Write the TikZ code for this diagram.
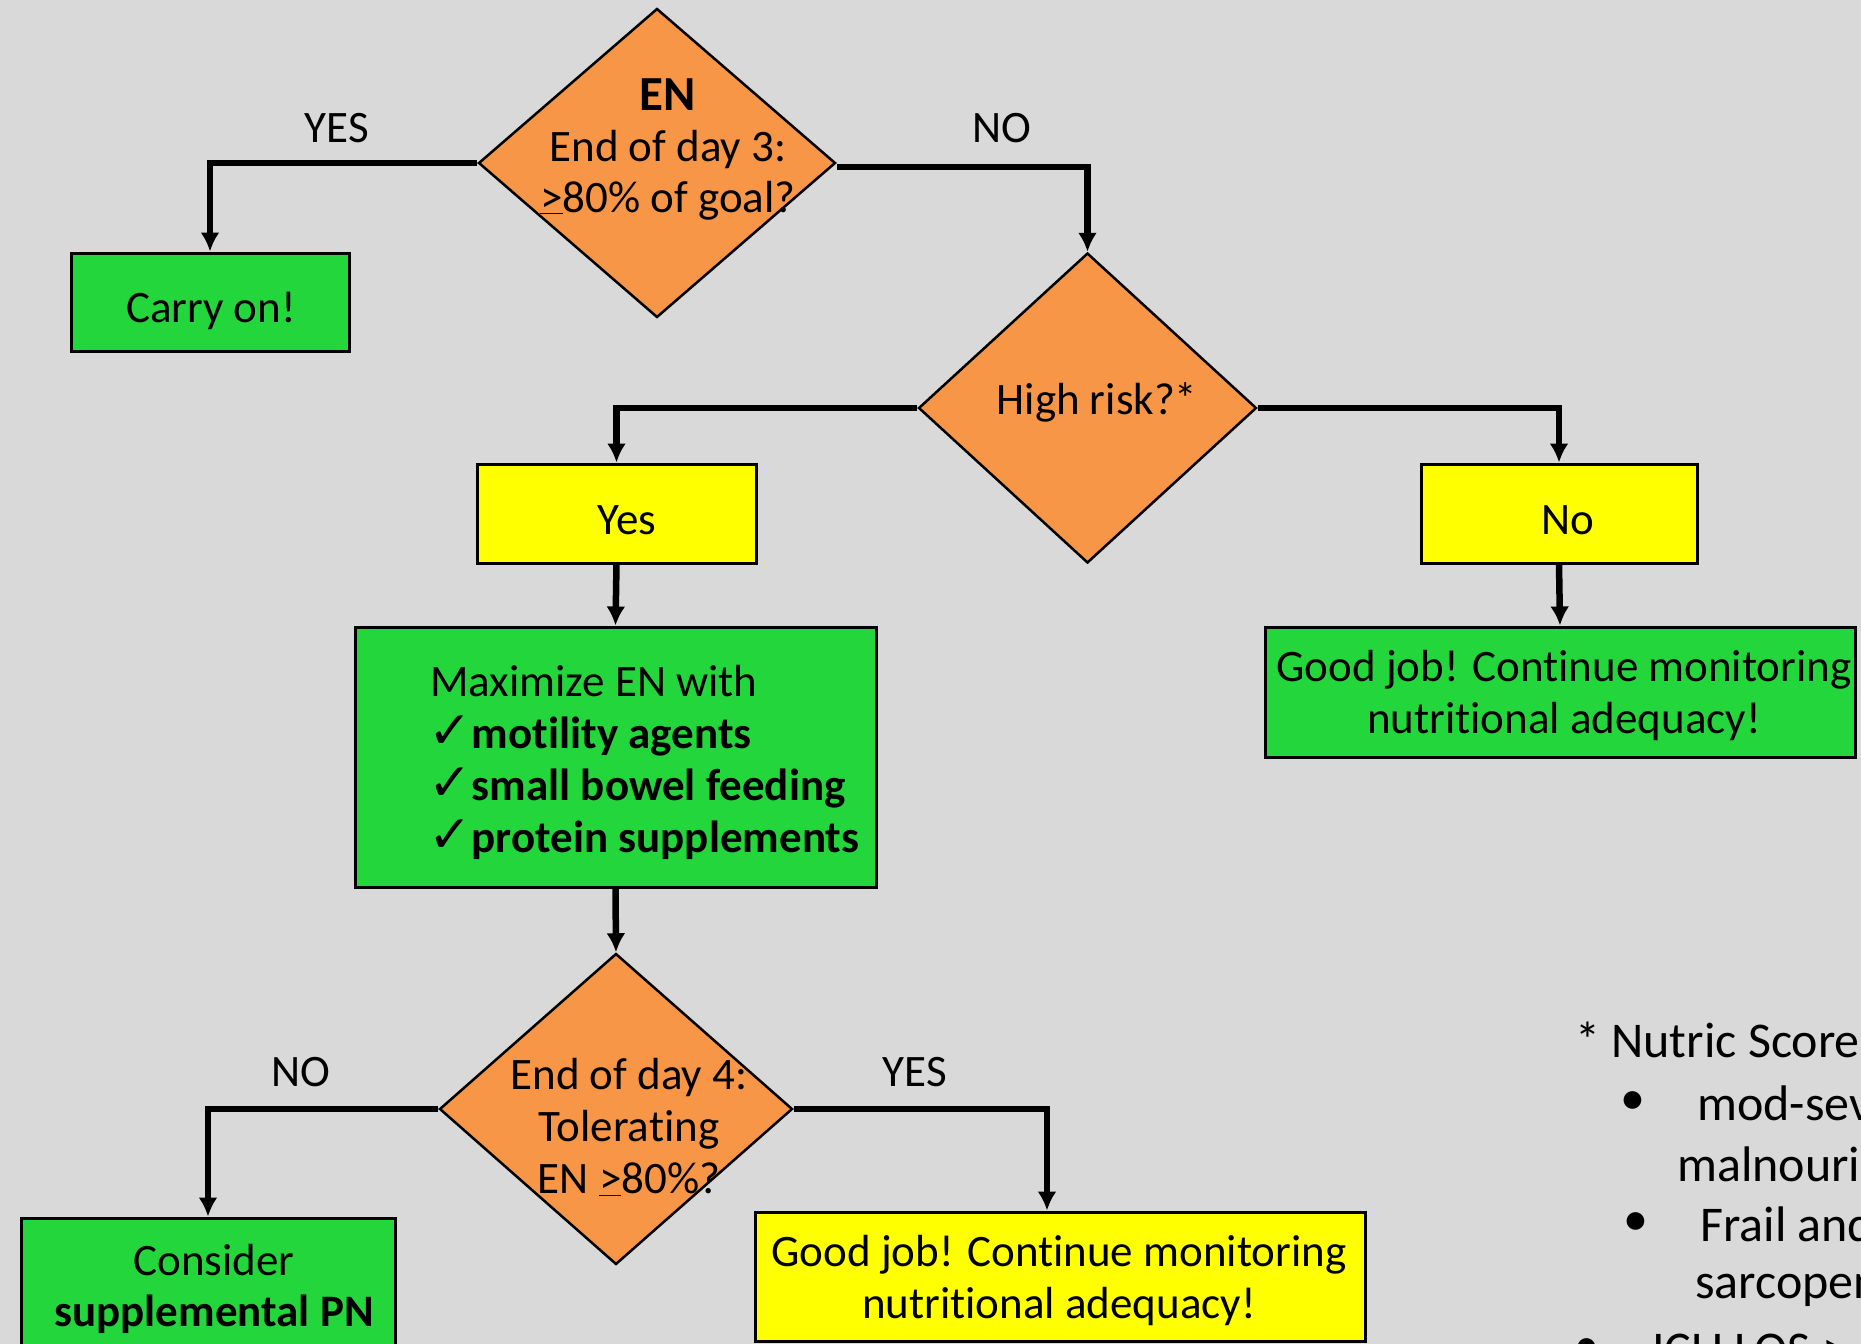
\documentclass[tikz,border=0pt]{standalone}
\usepackage{fontspec}
\setmainfont{Carlito}[Ligatures=NoCommon]
\newfontfamily\dejavu{DejaVu Sans}
\usetikzlibrary{shapes.geometric,arrows.meta,calc}
\definecolor{bgc}{HTML}{D9D9D9}
\definecolor{orgc}{HTML}{F79646}
\definecolor{grnc}{HTML}{23D63B}
\definecolor{ylwc}{HTML}{FFFF00}
\newcommand\myfs{\fontsize{45}{52}\selectfont}
\newcommand\fnfs{\fontsize{50}{60}\selectfont}
\newcommand\chk{{\dejavu\fontsize{52}{51}\selectfont ✓}}
\tikzset{
  box/.style={draw=black, line width=3pt, inner sep=0pt, align=center, font=\myfs},
  grnbox/.style={box, fill=grnc},
  ylwbox/.style={box, fill=ylwc},
  dia/.style={diamond, draw=black, fill=orgc, line width=2.5pt, inner sep=0pt},
  conn/.style={line width=6.5pt, -{Latex[length=19pt,width=19pt]}},
  txt/.style={align=center, font=\myfs, inner sep=0pt},
  lbl/.style={font=\myfs, inner sep=0pt},
  fn/.style={font=\fnfs, inner sep=0pt},
}
\begin{document}
\begin{tikzpicture}[x=1pt,y=-1pt]
\useasboundingbox (0,0) rectangle (1861,1344);
\fill[bgc] (0,0) rectangle (1861,1344);
\clip (0,0) rectangle (1861,1344);

% diamonds
\node[dia, minimum width=357pt, minimum height=309pt] (d1) at (657,163) {};
\node[txt, font=\fontsize{45}{51}\selectfont] (d1t) at (668,149) {{\bfseries\fontsize{49}{51}\selectfont EN}\\End of day 3:\\\underline{>}80\% of goal?};
\node[dia, minimum width=338pt, minimum height=310pt] (d2) at (1087.5,408) {};
\node[txt] (d2t) at (1097,402) {High risk?*};
\node[dia, minimum width=353pt, minimum height=311pt] (d3) at (616,1109) {};
\node[txt] (d3t) at (629,1127) {End of day 4:\\Tolerating\\EN \underline{>}80\%?};

% boxes
\node[grnbox, minimum width=278pt, minimum height=98pt] (carry) at (210,302) {};
\node[txt] (carryt) at (211,311) {Carry on!};
\node[ylwbox, minimum width=279pt, minimum height=99pt] (yes) at (616.5,513.5) {};
\node[txt] (yest) at (627,520) {Yes};
\node[ylwbox, minimum width=276pt, minimum height=99pt] (no) at (1559,513.5) {};
\node[txt] (not) at (1568,520) {No};
\node[grnbox, minimum width=521pt, minimum height=260pt] (max) at (615.5,757) {};
\node[inner sep=0pt, align=left, font=\myfs, anchor=west] (maxt) at (428,762) {%
  \hspace*{2pt}Maximize EN with\\
  \chk\textbf{motility agents}\\
  \chk\textbf{small bowel feeding}\\
  \chk\textbf{protein supplements}};
\node[grnbox, minimum width=590pt, minimum height=130pt] (good1) at (1560,692) {};
\node[txt] (good1t) at (1564,695) {Good job! Continue monitoring\\nutritional adequacy!};
\node[grnbox, minimum width=374pt, minimum height=170pt] (cons) at (208,1303) {};
\node[txt, anchor=north] (const) at (214,1244) {Consider\\[-1pt]\textbf{supplemental PN}};
\node[ylwbox, minimum width=610pt, minimum height=129pt] (good2) at (1060,1276.5) {};
\node[txt] (good2t) at (1059,1280) {Good job! Continue monitoring\\nutritional adequacy!};

% connectors
\draw[conn] (d1.west) -| (carry.north);
\draw[conn] ([yshift=-4pt]d1.east) -| (d2.north);
\draw[conn] (d2.west) -| (yes.north);
\draw[conn] (d2.east) -| (no.north);
\draw[conn] (yes.south) -- (max.north);
\draw[conn] (no.south) -- (good1.north);
\draw[conn] (max.south) -- (d3.north);
\draw[conn] (d3.west) -| (cons.north);
\draw[conn] (d3.east) -| ([xshift=-13pt]good2.north);

% labels
\node[lbl] (lyes1) at (337,128) {YES};
\node[lbl] (lno1) at (1002,128) {NO};
\node[lbl] (lno2) at (301,1072) {NO};
\node[lbl] (lyes2) at (915,1072) {YES};

% footnote
\node[fn, anchor=west] (fn0) at (1575,1040) {* Nutric Score};
\node[fn] (b1) at (1633,1103) {•};
\node[fn, anchor=west] (fn1) at (1697,1103) {mod-severe};
\node[fn, anchor=west] (fn1b) at (1677,1164) {malnourished};
\node[fn] (b2) at (1636,1224) {•};
\node[fn, anchor=west] (fn2) at (1700,1224) {Frail and};
\node[fn, anchor=west] (fn2b) at (1695,1285) {sarcopenic};
\node[fn] (b3) at (1587,1350) {•};
\node[fn, anchor=west] (fn3) at (1652,1350) {ICU LOS >};
\end{tikzpicture}
\end{document}
